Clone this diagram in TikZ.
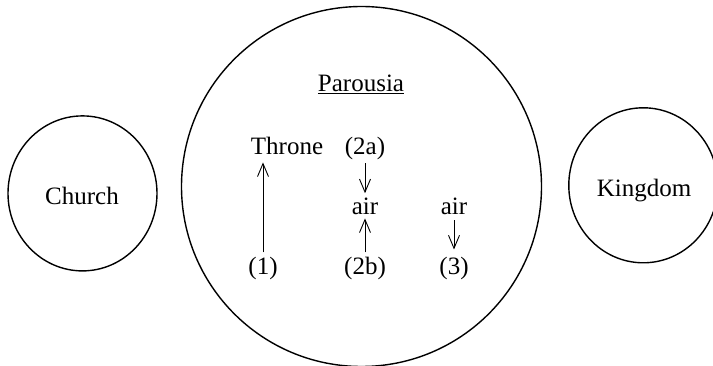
\documentclass[tikz,border=0pt]{standalone}
\usepackage{fontspec}
\setmainfont{Liberation Serif}
\usetikzlibrary{arrows.meta,shapes.geometric}

\begin{document}
\begin{tikzpicture}[x=1pt, y=-1pt, every node/.style={font=\fontsize{25}{30}\selectfont, inner sep=0pt}, >={Straight Barb[length=13pt, width=11pt]}, ring/.style={draw, line width=1.4pt, ellipse}, word/.style={anchor=base}, link/.style={->, line width=0.9pt}]
	\clip (0,0) rectangle (713,366);
	\node[ring, minimum width=149pt, minimum height=155pt] (church) at (82.5,193.4) {};
	\node[ring, minimum width=360pt, minimum height=360pt] (coming) at (361.5,186.5) {};
	\node[ring, minimum width=149pt, minimum height=155pt] (kingdom) at (643.3,185.3) {};
	\node[word] (churchtext) at (82,205) {Church};
	\node[word] (kingdomtext) at (644,196.7) {Kingdom};
	\node[word] (parousia) at (361,91.7) {Parousia};
	\draw[line width=1.2pt] ([yshift=-2pt]parousia.base west) -- ([yshift=-2pt]parousia.base east);
	\node[word] (throne) at (287,155) {Throne};
	\node[word] (twoa) at (365,155) {(2a)};
	\node[word] (airmid) at (365,215) {air};
	\node[word] (airright) at (454,215) {air};
	\node[word] (one) at (263,275) {(1)};
	\node[word] (twob) at (365,275) {(2b)};
	\node[word] (three) at (454,275) {(3)};
	\draw[link, shorten <=5pt, shorten >=7pt] (one.north) -- (one.north |- throne.south);
	\draw[link, shorten <=2.6pt, shorten >=5pt] (twoa.south) -- (airmid.north);
	\draw[link, shorten <=5pt, shorten >=3pt] (twob.north) -- (airmid.south);
	\draw[link, shorten <=5pt, shorten >=8pt] (airright.south) -- (three.north);
\end{tikzpicture}
\end{document}
